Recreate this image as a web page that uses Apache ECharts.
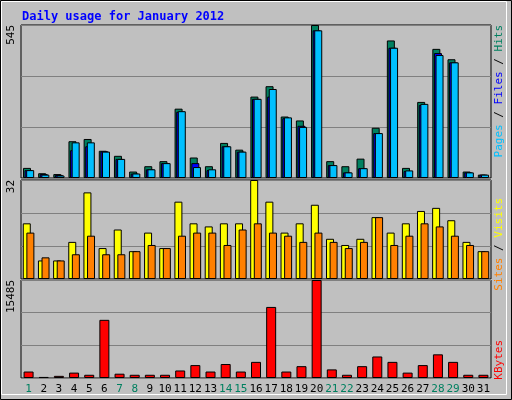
<!DOCTYPE html>
<html><head><meta charset="utf-8">
<script src="https://cdn.jsdelivr.net/npm/echarts@6/dist/echarts.min.js"></script>
<style>html,body{margin:0;padding:0;background:#c0c0c0}#c{width:512px;height:400px}</style>
</head><body><div id="c"></div>
<script>
const days = ['1','2','3','4','5','6','7','8','9','10','11','12','13','14','15','16','17','18','19','20','21','22','23','24','25','26','27','28','29','30','31'];
const weekend = ['1','7','8','14','15','21','22','28','29'];
const hits  = [36,17,14,131,139,97,79,23,42,60,247,73,42,125,101,290,327,219,205,545,60,42,69,179,490,36,271,460,423,23,12];
const files = [28,14,11,99,113,95,68,16,31,53,236,53,28,113,94,282,290,213,186,526,46,20,35,160,464,25,260,445,412,20,12];
const pages = [28,12,9,127,127,94,68,16,31,53,238,39,31,113,94,282,317,216,182,526,46,20,35,160,464,27,264,438,412,20,12];
const visits = [18,6,6,12,28,10,16,9,15,10,25,18,17,18,18,32,25,15,18,24,13,11,13,20,15,18,22,23,19,12,9];
const sites  = [15,7,6,8,14,8,8,9,11,10,14,15,15,11,16,18,15,14,12,15,12,10,12,20,11,14,18,17,14,11,9];
const kbytes = [1020,170,340,850,510,9190,680,510,510,510,1190,2040,1020,2210,1020,2550,11230,1020,1870,15485,1360,510,1870,3400,2550,850,2040,3740,2550,510,510];
const maxTop = 545, maxMid = 32, maxBot = 15485;

const chart = echarts.init(document.getElementById('c'), null, {renderer:'canvas'});
const grids = [
  {left:21, right:21, top:25, height:153},
  {left:21, right:21, top:180, height:99},
  {left:21, right:21, top:280, height:98}
];
function yAx(i, max){
  return {gridIndex:i, type:'value', min:0, max:max, interval:max/3,
    axisLine:{show:false}, axisTick:{show:false},
    splitLine:{lineStyle:{color:'#808080', width:1}},
    axisLabel:{show:true, rotate:90, fontFamily:'DejaVu Sans Mono', fontSize:11, color:'#000', margin:4,
      verticalAlign:'bottom', align:'right',
      formatter:v => Math.abs(v-max)<1e-6 ? String(max) : ''}};
}
function xAx(i, show){
  return {gridIndex:i, type:'category', data:days, axisLine:{show:false}, axisTick:{show:false},
    axisLabel:{show:show, interval:0, fontFamily:'DejaVu Sans Mono', fontSize:11, margin:6,
      color:(v)=> weekend.includes(v) ? '#008060' : '#000'}};
}
const bs = {borderColor:'#000', borderWidth:1};
chart.setOption({
  animation:false,
  backgroundColor:'#c0c0c0',
  title:{text:'Daily usage for January 2012', left:17, top:6,
    textStyle:{fontFamily:'DejaVu Sans Mono', fontSize:12, fontWeight:'bold', color:'#0000ff'}},
  grid: grids.map(g=>Object.assign({show:true, backgroundColor:'#c0c0c0', borderColor:'#000', borderWidth:1}, g)),
  xAxis:[xAx(0,false), xAx(1,false), xAx(2,true)],
  yAxis:[yAx(0,maxTop), yAx(1,maxMid), yAx(2,maxBot)],
  series:[
    {type:'bar', name:'Hits', xAxisIndex:0, yAxisIndex:0, data:hits, barWidth:8, barGap:'-80%', itemStyle:Object.assign({color:'#008060'},bs)},
    {type:'bar', name:'Files', xAxisIndex:0, yAxisIndex:0, data:files, barWidth:8, barGap:'-80%', itemStyle:Object.assign({color:'#0000ff'},bs)},
    {type:'bar', name:'Pages', xAxisIndex:0, yAxisIndex:0, data:pages, barWidth:8, barGap:'-80%', itemStyle:Object.assign({color:'#00c0ff'},bs)},
    {type:'bar', name:'Visits', xAxisIndex:1, yAxisIndex:1, data:visits, barWidth:8, barGap:'-55%', itemStyle:Object.assign({color:'#ffff00'},bs)},
    {type:'bar', name:'Sites', xAxisIndex:1, yAxisIndex:1, data:sites, barWidth:8, barGap:'-55%', itemStyle:Object.assign({color:'#ff8000'},bs)},
    {type:'bar', name:'KBytes', xAxisIndex:2, yAxisIndex:2, data:kbytes, barWidth:10, itemStyle:Object.assign({color:'#ff0000'},bs)}
  ],
  graphic:[
    {type:'rect', shape:{x:0.5,y:0.5,width:511,height:399}, style:{fill:'none', stroke:'#000', lineWidth:1}},
    {type:'rect', shape:{x:1.5,y:1.5,width:505,height:393}, style:{fill:'none', stroke:'#fff', lineWidth:1}},
    {type:'text', x:494, y:25, rotation:Math.PI/2, style:{align:'right', verticalAlign:'top',
      text:'{p|Pages}{s| / }{f|Files}{s| / }{h|Hits}', font:'11px DejaVu Sans Mono',
      rich:{p:{fill:'#00c0ff',fontFamily:'DejaVu Sans Mono',fontSize:11},s:{fill:'#000',fontFamily:'DejaVu Sans Mono',fontSize:11},
            f:{fill:'#0000ff',fontFamily:'DejaVu Sans Mono',fontSize:11},h:{fill:'#008060',fontFamily:'DejaVu Sans Mono',fontSize:11}}}},
    {type:'text', x:494, y:198, rotation:Math.PI/2, style:{align:'right', verticalAlign:'top',
      text:'{a|Sites}{s| / }{b|Visits}', font:'11px DejaVu Sans Mono',
      rich:{a:{fill:'#ff8000',fontFamily:'DejaVu Sans Mono',fontSize:11},s:{fill:'#000',fontFamily:'DejaVu Sans Mono',fontSize:11},
            b:{fill:'#ffff00',fontFamily:'DejaVu Sans Mono',fontSize:11}}}},
    {type:'text', x:494, y:340, rotation:Math.PI/2, style:{align:'right', verticalAlign:'top',
      text:'KBytes', fill:'#ff0000', font:'11px DejaVu Sans Mono'}}
  ]
});
</script></body></html>
